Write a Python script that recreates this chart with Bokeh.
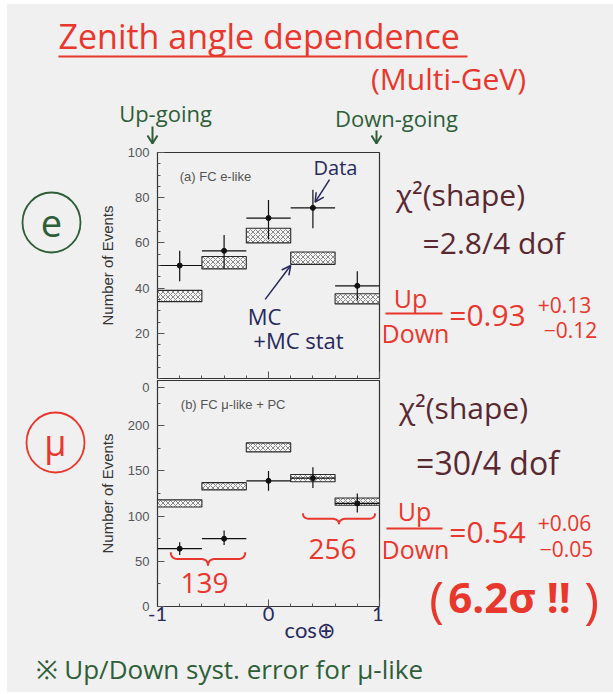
import numpy as np
from bokeh.plotting import figure
from bokeh.layouts import column, row
from bokeh.models import Label, Arrow, OpenHead, FixedTicker, Range1d
from bokeh.core.properties import value
from bokeh.embed import file_html
from bokeh.resources import INLINE

# cos(zenith) binning
bin_edges = [-1.0, -0.6, -0.2, 0.2, 0.6, 1.0]

# (a) FC e-like : data points with error range, MC boxes (MC + MC stat)
e_data = [50, 56.5, 71, 75.5, 41]
e_data_lo = [43, 48.5, 61.5, 66.5, 34.5]
e_data_hi = [56.5, 63.5, 79, 83.5, 47.5]
e_mc_lo = [34, 48.5, 60, 50.5, 33]
e_mc_hi = [39, 54, 66.5, 56, 37.5]

# (b) FC mu-like + PC
mu_data = [64, 75, 139, 142, 114]
mu_data_lo = [57, 68, 128, 131, 104]
mu_data_hi = [71, 84, 150, 154, 125]
mu_mc_lo = [110, 129, 171, 138, 112]
mu_mc_hi = [118, 137, 181, 146, 120]

# summed up-going (first two bins) and down-going (last two bins) mu-like counts
mu_up_sum = sum(mu_data[:2])
mu_down_sum = sum(mu_data[3:])

e_ticks = [20, 40, 60, 80, 100]
mu_ticks = [0, 50, 100, 150, 200]
x_ticks = [-1, 0, 1]
x_tick_labels = {-1: "-1", 0: "0", 1: "1"}

BG = "#f0f0f0"
RED = "#e8372c"
GREEN = "#2e5e37"
MAROON = "#5a2830"
NAVY = "#27295c"
HAND = "Open Sans"
PRINT = "Liberation Sans"

# page geometry (pixels)
PAGE_L, PAGE_T, PAGE_B = 7, 4, 692     # sheet edges inside the white margin
FRAME_LEFT = 155                       # left edge of both panels
TOP_H = 144                            # bottom of the title strip
PA_TOP = 8                             # room above panel (a) for its "100" label
MID_BOTTOM = 650                       # bottom of the panel rows


def no_align(p):
    # keep every figure's frame where its own borders put it
    try:
        p.frame_align = False
    except (AttributeError, ValueError):
        pass


def make_panel(ymax, yticks, yminor, top_border, bottom_border):
    p = figure(frame_width=222, frame_height=226,
               x_range=Range1d(-1, 1), y_range=Range1d(0, ymax),
               output_backend="svg", toolbar_location=None,
               min_border_left=60, min_border_right=4,
               min_border_top=top_border, min_border_bottom=bottom_border,
               background_fill_color=BG, border_fill_color=BG,
               outline_line_color="#333333", outline_line_width=1.2)
    no_align(p)
    p.grid.visible = False
    ax = p.yaxis[0]
    ax.ticker = FixedTicker(ticks=yticks, minor_ticks=yminor)
    ax.axis_label = "Number of Events"
    ax.axis_label_text_font = PRINT
    ax.axis_label_text_font_style = "normal"
    ax.axis_label_text_font_size = "15px"
    ax.axis_label_text_color = "#333333"
    ax.axis_label_standoff = 9
    ax.major_label_text_font = PRINT
    ax.major_label_text_font_size = "13px"
    ax.major_label_text_color = "#555555"
    ax.major_label_standoff = 8
    xa = p.xaxis[0]
    xa.ticker = FixedTicker(ticks=x_ticks,
                            minor_ticks=[-0.8, -0.6, -0.4, -0.2, 0.2, 0.4, 0.6, 0.8])
    for a in (ax, xa):
        a.axis_line_color = "#333333"
        a.major_tick_in = 7
        a.major_tick_out = 0
        a.minor_tick_in = 3
        a.minor_tick_out = 0
        a.major_tick_line_color = "#555555"
        a.minor_tick_line_color = "#555555"
    return p


def draw_series(p, data, lo, hi, mc_lo, mc_hi):
    left = bin_edges[:-1]
    right = bin_edges[1:]
    centers = [(a + b) / 2 for a, b in zip(left, right)]
    p.quad(left=left, right=right, bottom=mc_lo, top=mc_hi,
           fill_color="#f4f4f4", line_color="#2a2a2a", line_width=1.1,
           hatch_pattern="diagonal_cross", hatch_color="#6d6d6d",
           hatch_scale=5, hatch_weight=0.8)
    p.segment(x0=left, y0=data, x1=right, y1=data, line_color="#111111", line_width=1.2)
    p.segment(x0=centers, y0=lo, x1=centers, y1=hi, line_color="#111111", line_width=1.2)
    p.scatter(centers, data, size=5, color="#111111")


def inner_note(p, fb, text, cx, cy, size, color):
    # label inside a panel frame, placed by page position (frame-relative screen units)
    p.add_layout(Label(x=cx - FRAME_LEFT, y=fb - cy, x_units="screen", y_units="screen",
                       text=text, text_font=HAND, text_font_size=f"{size}px",
                       text_color=color, text_align="center", text_baseline="middle"))


def brace(p, x0, x1, ytop, ybot, color):
    # downward curly brace built from quadratic pieces
    xm = (x0 + x1) / 2
    d = (x1 - x0) * 0.1
    ymid = (ytop + ybot) / 2
    t = np.linspace(0, 1, 12)

    def qb(a, c, b):
        return [(1 - t) ** 2 * a[i] + 2 * (1 - t) * t * c[i] + t ** 2 * b[i] for i in (0, 1)]

    segs = [qb((x0, ytop), (x0, ymid), (x0 + d, ymid)),
            [np.array([x0 + d, xm - d]), np.array([ymid, ymid])],
            qb((xm - d, ymid), (xm, ymid), (xm, ybot)),
            qb((xm, ybot), (xm, ymid), (xm + d, ymid)),
            [np.array([xm + d, x1 - d]), np.array([ymid, ymid])],
            qb((x1 - d, ymid), (x1, ymid), (x1, ytop))]
    xs = np.concatenate([s[0] for s in segs])
    ys = np.concatenate([s[1] for s in segs])
    p.line(xs, ys, line_color=color, line_width=2)


def strip(x0, y0, x1, y1):
    # plain text area addressed in page pixels (y grows downward)
    s = figure(width=x1 - x0, height=y1 - y0, x_range=Range1d(x0, x1), y_range=Range1d(y1, y0),
               output_backend="svg", toolbar_location=None, min_border=0,
               x_axis_location=None, y_axis_location=None,
               background_fill_color=BG, border_fill_color=BG, outline_line_color=None)
    no_align(s)
    s.grid.visible = False
    return s


def write(s, text, x, y, size, color, align="center", font=HAND, style="normal"):
    s.text(x=[x], y=[y], text=[text], text_font=value(font),
           text_font_size=value(f"{size}px"), text_font_style=value(style),
           text_color=color, text_align=value(align), text_baseline=value("middle"))


def rule(s, x0, x1, y, color, width=2):
    s.line(x=[x0, x1], y=[y, y], line_color=color, line_width=width)


def down_arrow(s, x, y0, y1, color):
    s.line(x=[x, x], y=[y0, y1], line_color=color, line_width=2)
    s.line(x=[x - 5, x, x + 5], y=[y1 - 8, y1, y1 - 8], line_color=color, line_width=2)


def ring(s, text, cx, cy, size, color):
    s.ellipse(x=[cx], y=[cy], width=58, height=60, fill_color=None,
              line_color=color, line_width=1.8)
    write(s, text, cx, cy, size, color)


# ---------------- title strip ----------------
top = strip(PAGE_L, PAGE_T, 613, TOP_H)
write(top, "Zenith angle dependence", 58, 35, 34, RED, align="left")
rule(top, 58, 467, 56, RED)
write(top, "(Multi-GeV)", 448, 78, 30, RED)
write(top, "Up-going", 165, 112, 22, GREEN)
down_arrow(top, 152, 126, 143, GREEN)
write(top, "Down-going", 396, 117, 22, GREEN)
down_arrow(top, 376, 130, 143, GREEN)

# ---------------- (a) e-like panel ----------------
pa = make_panel(100, e_ticks, list(range(0, 100, 5)), PA_TOP, 2)
pa.xaxis[0].major_label_overrides = {-1: "", 0: "", 1: ""}
pa.xaxis[0].major_label_text_font_size = "0px"
pa.xaxis[0].major_label_standoff = 0
draw_series(pa, e_data, e_data_lo, e_data_hi, e_mc_lo, e_mc_hi)
pa.add_layout(Label(x=-0.8, y=89.5, text="(a) FC e-like", text_font=PRINT,
                    text_font_size="13px", text_color="#555555", text_baseline="middle"))
pa.add_layout(Arrow(end=OpenHead(size=9, line_color=NAVY, line_width=1.5),
                    x_start=0.55, y_start=88, x_end=0.42, y_end=78,
                    line_color=NAVY, line_width=1.5))
pa.add_layout(Arrow(end=OpenHead(size=9, line_color=NAVY, line_width=1.5),
                    x_start=-0.03, y_start=35, x_end=0.2, y_end=50,
                    line_color=NAVY, line_width=1.5))
FA = TOP_H + PA_TOP + 226
inner_note(pa, FA, "Data", 333, 167, 20, NAVY)
inner_note(pa, FA, "MC", 262, 315, 22, NAVY)
inner_note(pa, FA, "+MC stat", 296, 339, 22, NAVY)

# ---------------- (b) mu-like panel ----------------
FB_TOP = FA + 2
ROW_B_BOTTOM = MID_BOTTOM - FB_TOP - 226
pb = make_panel(250, mu_ticks + [242], list(range(25, 250, 25)), 0, ROW_B_BOTTOM)
# zero of the upper panel, labelled just under the shared edge
pb.yaxis[0].major_label_overrides = {242: "0"}
xb = pb.xaxis[0]
xb.major_label_text_font = "Lato"
xb.major_label_text_font_size = "20px"
xb.major_label_text_color = NAVY
xb.major_label_standoff = 0
xb.major_label_overrides = x_tick_labels
xb.axis_label = "\u2003" * 5 + "cos\u2295"
xb.axis_label_text_font = "Lato"
xb.axis_label_text_font_style = "normal"
xb.axis_label_text_font_size = "22px"
xb.axis_label_text_color = NAVY
xb.axis_label_standoff = -8
draw_series(pb, mu_data, mu_data_lo, mu_data_hi, mu_mc_lo, mu_mc_hi)
pb.add_layout(Label(x=-0.79, y=224, text="(b) FC \u03bc-like + PC", text_font=PRINT,
                    text_font_size="13px", text_color="#555555", text_baseline="middle"))
brace(pb, -0.88, -0.21, 60, 45, RED)
brace(pb, 0.31, 0.96, 103, 91, RED)
FB = FB_TOP + 226
inner_note(pb, FB, str(mu_up_sum), 202, 582, 28, RED)
inner_note(pb, FB, str(mu_down_sum), 330, 548, 28, RED)

# ---------------- side strips (span both panels) ----------------
left = strip(PAGE_L, TOP_H, 95, MID_BOTTOM)
ring(left, "e", 51, 222, 38, GREEN)
ring(left, "\u03bc", 55, 442, 36, RED)

right = strip(381, TOP_H, 613, MID_BOTTOM)
write(right, "\u03c7\u00b2(shape)", 458, 194, 30, MAROON)
write(right, "=2.8/4 dof", 491, 242, 30, MAROON)
write(right, "Up", 408, 297, 25, RED)
rule(right, 383, 440, 313, RED)
write(right, "Down", 413, 332, 25, RED)
write(right, "=0.93", 485, 314, 30, RED)
write(right, "+0.13", 562, 304, 21, RED)
write(right, "\u22120.12", 568, 329, 21, RED)

write(right, "\u03c7\u00b2(shape)", 461, 407, 30, MAROON)
write(right, "=30/4 dof", 485, 462, 32, MAROON)
write(right, "Up", 412, 510, 25, RED)
rule(right, 384, 440, 528, RED)
write(right, "Down", 413, 548, 25, RED)
write(right, "=0.54", 485, 531, 30, RED)
write(right, "+0.06", 562, 522, 21, RED)
write(right, "\u22120.05", 564, 548, 21, RED)
write(right, "(", 434, 597, 50, RED)
write(right, "6.2\u03c3 !!", 507, 596, 42, RED, style="bold")
write(right, ")", 589, 598, 50, RED)

# ---------------- footnote strip ----------------
foot = strip(PAGE_L, MID_BOTTOM, 613, PAGE_B)
write(foot, "\u203b Up/Down  syst. error for \u03bc-like", 35, 668, 26, GREEN, align="left")

sheet = {"background-color": BG}
layout = column(top, row(left, column(pa, pb, spacing=0, styles=sheet), right, styles=sheet),
                foot, spacing=0, styles=sheet,
                margin=(PAGE_T, 0, 694 - PAGE_B, PAGE_L))
html = file_html(layout, INLINE)
html = html.replace("<body>", '<body style="margin:0; background:#ffffff;">', 1)
open("out.html", "w").write(html)
